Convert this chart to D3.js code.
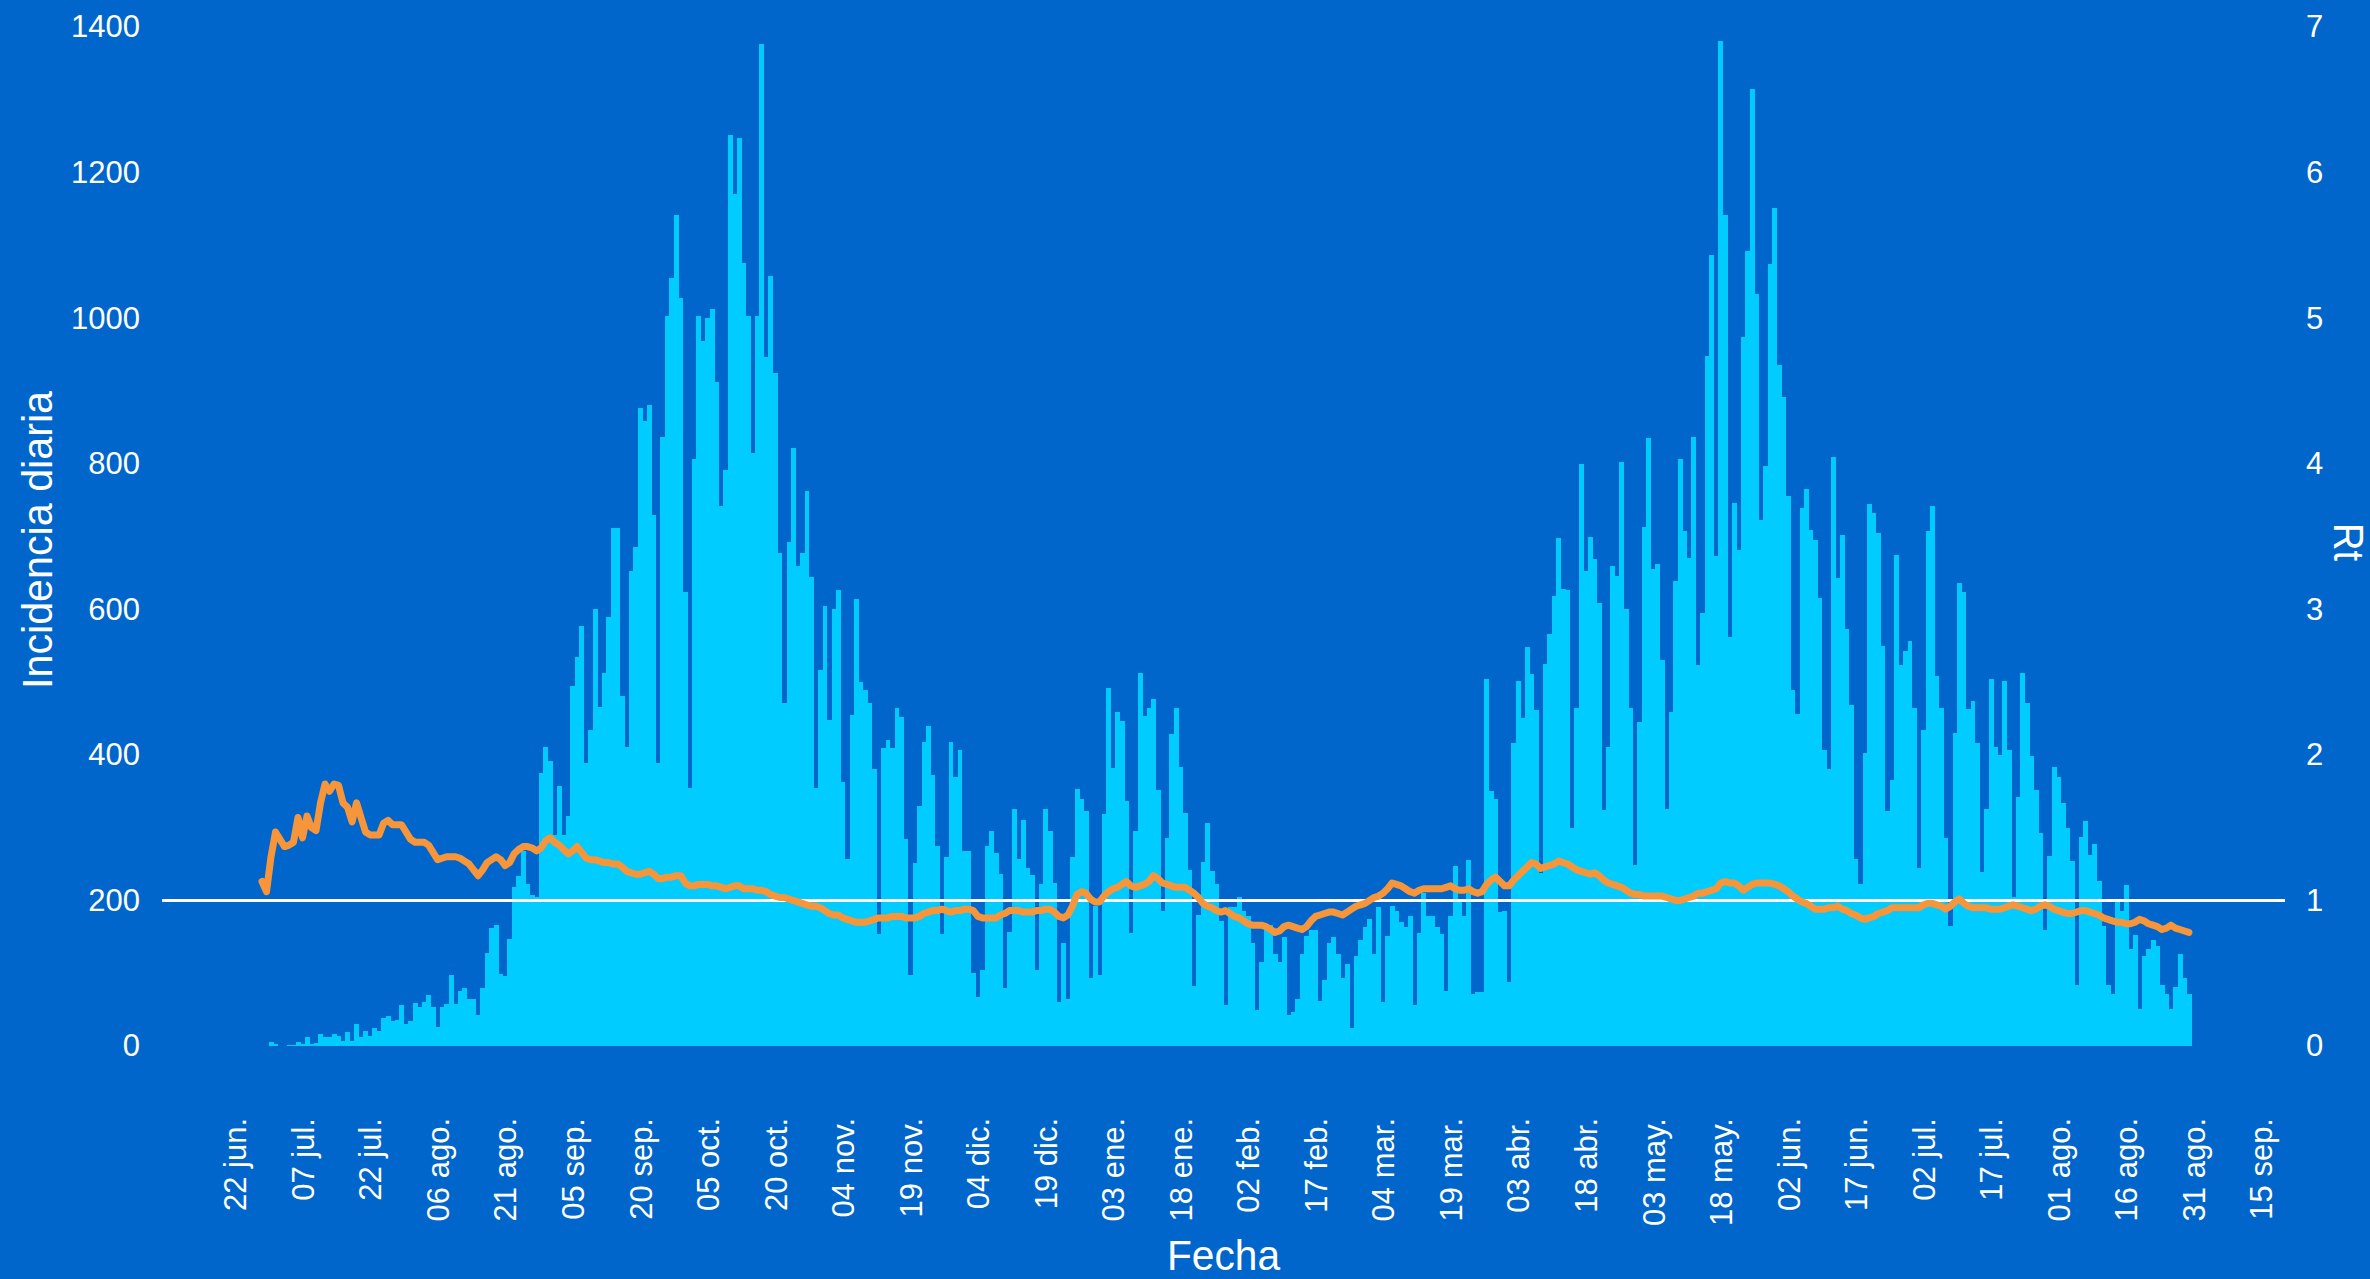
<!DOCTYPE html>
<html>
<head>
<meta charset="utf-8">
<script src="https://cdn.jsdelivr.net/npm/d3@7"></script>
<style>
  html, body { margin: 0; padding: 0; background: #0066cc; }
  svg { display: block; }
  text { fill: #ffffff; font-family: "Liberation Sans", Arial, sans-serif; }
</style>
</head>
<body>
<div id="chart"></div>
<script>
// daily incidence, one value per day from incStart
var incStart = "2020-06-29";
var incidence = [
  0,5,3,0,0,2,1,6,3,12,
  3,4,16,12,12,16,14,7,19,7,
  30,12,20,14,25,21,38,41,35,36,
  56,30,34,59,54,61,70,54,26,54,
  58,97,58,75,80,64,64,43,79,128,
  162,166,99,96,147,218,234,268,222,207,
  205,375,411,391,290,357,290,316,495,534,
  577,389,434,600,466,513,589,711,711,481,
  411,653,685,876,859,880,730,389,837,1003,
  1055,1142,1028,624,354,807,1003,969,1000,1012,
  912,742,791,1252,1170,1248,1076,1003,815,1003,
  1377,947,1058,924,677,471,692,821,660,677,
  762,644,355,516,604,448,601,627,363,257,
  455,614,500,489,471,381,154,409,421,410,
  464,452,284,97,252,330,418,439,372,275,
  154,259,418,370,407,268,268,100,68,105,
  275,296,265,236,79,156,325,257,311,245,
  235,105,222,325,296,224,60,142,64,259,
  353,339,323,94,193,97,319,492,382,459,
  446,337,155,296,512,454,464,477,352,186,
  286,428,465,383,320,242,83,180,253,306,
  241,222,172,56,191,191,205,186,178,142,
  49,115,166,166,127,116,150,43,47,65,
  126,151,159,159,62,90,142,150,127,93,
  112,25,123,146,164,175,127,191,61,151,
  193,186,171,164,178,56,155,210,178,178,
  164,154,75,178,247,200,179,256,72,74,
  74,504,350,340,184,186,88,416,502,450,
  548,511,461,237,525,566,618,698,628,627,
  300,464,800,653,700,669,609,324,411,659,
  646,803,601,464,249,445,713,835,655,662,
  530,325,459,639,807,707,671,837,523,595,
  948,1087,673,1381,1142,562,746,682,974,1092,
  1315,1033,723,797,1075,1151,935,891,756,489,
  456,739,765,709,695,616,407,380,809,643,
  702,573,468,257,223,402,744,732,705,550,
  323,366,675,523,543,557,464,245,434,707,
  742,509,464,286,165,430,636,624,463,474,
  416,239,326,504,411,400,501,407,205,342,
  512,471,399,352,293,159,261,383,370,334,
  299,254,84,287,309,262,278,227,165,84,
  72,198,185,221,133,153,51,124,133,145,
  137,84,72,51,81,127,94,72
];

// Rt, one value per day from rtStart
var rtStart = "2020-06-28";
var rt = [
  1.13,1.06,1.30,1.47,1.42,1.37,1.38,1.40,1.57,1.43,1.58,
  1.50,1.48,1.67,1.80,1.75,1.80,1.79,1.67,1.64,1.54,
  1.67,1.57,1.47,1.45,1.45,1.45,1.53,1.55,1.52,1.52,
  1.52,1.47,1.42,1.40,1.40,1.40,1.38,1.33,1.28,1.29,
  1.30,1.30,1.30,1.29,1.27,1.25,1.21,1.17,1.21,1.26,
  1.28,1.30,1.28,1.24,1.26,1.32,1.35,1.37,1.37,1.36,
  1.34,1.36,1.41,1.43,1.40,1.38,1.35,1.32,1.34,1.37,
  1.33,1.29,1.28,1.28,1.27,1.26,1.26,1.25,1.25,1.23,
  1.20,1.19,1.18,1.18,1.19,1.20,1.18,1.15,1.15,1.16,
  1.16,1.17,1.17,1.12,1.10,1.10,1.11,1.11,1.11,1.10,
  1.10,1.09,1.08,1.09,1.10,1.10,1.08,1.08,1.08,1.07,
  1.07,1.06,1.04,1.03,1.02,1.02,1.01,1.00,0.99,0.98,
  0.97,0.96,0.96,0.95,0.93,0.91,0.90,0.90,0.88,0.87,
  0.86,0.85,0.85,0.85,0.86,0.87,0.88,0.88,0.88,0.89,
  0.89,0.89,0.88,0.88,0.88,0.89,0.91,0.92,0.93,0.93,
  0.94,0.93,0.92,0.93,0.93,0.94,0.94,0.93,0.89,0.88,
  0.88,0.88,0.88,0.90,0.91,0.93,0.93,0.93,0.92,0.92,
  0.92,0.93,0.93,0.94,0.94,0.92,0.89,0.88,0.90,0.96,
  1.04,1.06,1.05,1.01,0.99,0.99,1.03,1.06,1.08,1.09,
  1.11,1.13,1.10,1.09,1.10,1.11,1.13,1.17,1.15,1.12,
  1.11,1.10,1.09,1.09,1.09,1.07,1.05,1.02,0.98,0.96,
  0.95,0.93,0.92,0.93,0.91,0.89,0.88,0.86,0.84,0.83,
  0.83,0.83,0.82,0.80,0.78,0.79,0.82,0.83,0.82,0.81,
  0.80,0.82,0.86,0.89,0.90,0.91,0.92,0.92,0.91,0.90,
  0.92,0.94,0.96,0.97,0.98,1.00,1.02,1.03,1.05,1.08,
  1.12,1.11,1.10,1.08,1.06,1.05,1.07,1.08,1.08,1.08,
  1.08,1.08,1.09,1.10,1.08,1.07,1.07,1.08,1.06,1.05,
  1.06,1.11,1.14,1.16,1.13,1.10,1.10,1.14,1.17,1.20,
  1.23,1.26,1.25,1.22,1.23,1.24,1.25,1.27,1.26,1.25,
  1.23,1.21,1.20,1.19,1.18,1.19,1.17,1.14,1.12,1.11,
  1.10,1.09,1.07,1.05,1.04,1.04,1.03,1.03,1.03,1.03,
  1.03,1.02,1.01,1.00,1.00,1.01,1.02,1.03,1.05,1.05,
  1.06,1.07,1.08,1.12,1.13,1.12,1.12,1.10,1.07,1.09,
  1.11,1.12,1.12,1.12,1.12,1.11,1.10,1.08,1.06,1.03,
  1.01,0.99,0.98,0.96,0.94,0.94,0.94,0.95,0.95,0.96,
  0.94,0.93,0.91,0.90,0.88,0.87,0.88,0.89,0.91,0.92,
  0.93,0.95,0.95,0.95,0.95,0.95,0.95,0.95,0.97,0.98,
  0.98,0.97,0.96,0.94,0.96,0.99,1.01,0.98,0.96,0.95,
  0.95,0.95,0.95,0.94,0.94,0.94,0.95,0.96,0.97,0.96,
  0.95,0.94,0.93,0.94,0.96,0.97,0.96,0.94,0.93,0.92,
  0.91,0.91,0.92,0.93,0.93,0.92,0.91,0.90,0.88,0.87,
  0.86,0.85,0.85,0.84,0.84,0.85,0.87,0.86,0.84,0.83,
  0.82,0.80,0.81,0.83,0.81,0.80,0.79,0.78
];

var yTicks = [0, 200, 400, 600, 800, 1000, 1200, 1400];
var rtTicks = [0, 1, 2, 3, 4, 5, 6, 7];
var xTickDates = ["2020-06-22","2020-07-07","2020-07-22","2020-08-06","2020-08-21",
  "2020-09-05","2020-09-20","2020-10-05","2020-10-20","2020-11-04","2020-11-19",
  "2020-12-04","2020-12-19","2021-01-03","2021-01-18","2021-02-02","2021-02-17",
  "2021-03-04","2021-03-19","2021-04-03","2021-04-18","2021-05-03","2021-05-18",
  "2021-06-02","2021-06-17","2021-07-02","2021-07-17","2021-08-01","2021-08-16",
  "2021-08-31","2021-09-15"];
var xTickLabels = ["22 jun.","07 jul.","22 jul.","06 ago.","21 ago.","05 sep.","20 sep.",
  "05 oct.","20 oct.","04 nov.","19 nov.","04 dic.","19 dic.","03 ene.","18 ene.",
  "02 feb.","17 feb.","04 mar.","19 mar.","03 abr.","18 abr.","03 may.","18 may.",
  "02 jun.","17 jun.","02 jul.","17 jul.","01 ago.","16 ago.","31 ago.","15 sep."];
var rtThreshold = 1;

var W = 2370, H = 1279;
var plotL = 162, plotR = 2285, plotT = 27, plotB = 1046;

var parse = d3.utcParse("%Y-%m-%d");
var incDates = incidence.map(function(v, i){ return d3.utcDay.offset(parse(incStart), i); });
var rtDates = rt.map(function(v, i){ return d3.utcDay.offset(parse(rtStart), i); });

var x = d3.scaleUtc()
  .domain([new Date(Date.UTC(2020, 5, 5, 19)), new Date(Date.UTC(2021, 8, 20, 8))])
  .range([plotL, plotR]);
var y = d3.scaleLinear().domain([0, 1400]).range([plotB, plotT]);
var yRt = d3.scaleLinear().domain([0, 7]).range([plotB, plotT]);

var svg = d3.select("#chart").append("svg")
  .attr("width", W).attr("height", H);

svg.append("rect").attr("width", W).attr("height", H).attr("fill", "#0066cc");

var dayW = x(parse("2020-07-02")) - x(parse("2020-07-01"));

svg.append("g")
  .selectAll("rect")
  .data(incidence)
  .join("rect")
    .attr("x", function(d, i){ return x(incDates[i]) - dayW / 2; })
    .attr("width", dayW + 0.4)
    .attr("y", function(d){ return y(d); })
    .attr("height", function(d){ return y(0) - y(d); })
    .attr("fill", "#00ccff")
    .attr("shape-rendering", "crispEdges");

// Rt = 1 reference
svg.append("line")
  .attr("x1", plotL).attr("x2", plotR)
  .attr("y1", yRt(rtThreshold)).attr("y2", yRt(rtThreshold))
  .attr("stroke", "#ffffff").attr("stroke-width", 3);

var line = d3.line()
  .x(function(d, i){ return x(rtDates[i]); })
  .y(function(d){ return yRt(d); });

svg.append("path")
  .datum(rt)
  .attr("d", line)
  .attr("fill", "none")
  .attr("stroke", "#f7953b")
  .attr("stroke-width", 7)
  .attr("stroke-linejoin", "round")
  .attr("stroke-linecap", "round");

// axes
var gl = svg.append("g").attr("transform", "translate(" + plotL + ",0)")
  .call(d3.axisLeft(y).tickValues(yTicks).tickFormat(d3.format("d"))
    .tickSize(0).tickPadding(22));
var gr = svg.append("g").attr("transform", "translate(" + plotR + ",0)")
  .call(d3.axisRight(yRt).tickValues(rtTicks).tickFormat(d3.format("d"))
    .tickSize(0).tickPadding(21));

var tickDates = xTickDates.map(parse);
var gb = svg.append("g").attr("transform", "translate(0," + plotB + ")")
  .call(d3.axisBottom(x).tickValues(tickDates).tickSize(0)
    .tickFormat(function(d, i){ return xTickLabels[i]; }));
gb.selectAll("text")
  .attr("transform", "rotate(-90)")
  .attr("text-anchor", "end")
  .attr("x", -72).attr("y", 0).attr("dy", "0.35em");

[gl, gr, gb].forEach(function(g){
  g.select(".domain").remove();
  g.selectAll("text")
    .attr("fill", "#ffffff")
    .style("font-size", "31px")
    .style("font-family", "'Liberation Sans', Arial, sans-serif");
});

// axis titles
svg.append("text")
  .attr("transform", "translate(52,540) rotate(-90)")
  .attr("text-anchor", "middle")
  .attr("textLength", 298).attr("lengthAdjust", "spacingAndGlyphs")
  .style("font-size", "42px")
  .text("Incidencia diaria");

svg.append("text")
  .attr("x", (plotL + plotR) / 2).attr("y", 1270)
  .attr("text-anchor", "middle")
  .attr("textLength", 113).attr("lengthAdjust", "spacingAndGlyphs")
  .style("font-size", "42px")
  .text("Fecha");

svg.append("text")
  .attr("transform", "translate(2334,542) rotate(90)")
  .attr("text-anchor", "middle")
  .attr("textLength", 38).attr("lengthAdjust", "spacingAndGlyphs")
  .style("font-size", "42px")
  .text("Rt");
</script>
</body>
</html>
